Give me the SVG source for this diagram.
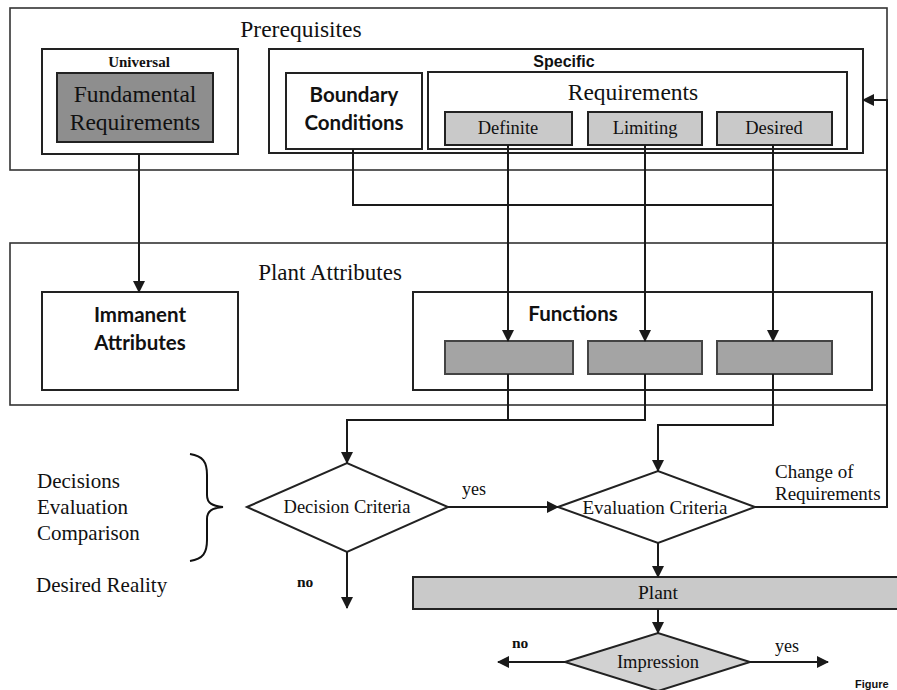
<svg xmlns="http://www.w3.org/2000/svg" width="897" height="690" viewBox="0 0 897 690">
<style>
.frame{fill:none;stroke:#333;stroke-width:1.6}
.box{fill:#fff;stroke:#222;stroke-width:2}
.dark{fill:#8e8e8e;stroke:#222;stroke-width:2}
.light{fill:#c9c9c9;stroke:#222;stroke-width:2}
.func{fill:#a4a4a4;stroke:#444;stroke-width:2}
.dia{fill:#fff;stroke:#222;stroke-width:2}
.line{fill:none;stroke:#1a1a1a;stroke-width:2}
.serif{font-family:"Liberation Serif","Times New Roman",serif;fill:#111}
.opt{font-family:"Lato","Open Sans",sans-serif;font-weight:700;fill:#111}
.sans{font-family:"Liberation Sans",Arial,sans-serif;font-weight:700;fill:#111}
</style>
<defs>
<marker id="ah" markerWidth="12" markerHeight="12" refX="11" refY="6" orient="auto" markerUnits="userSpaceOnUse">
<path d="M0,0 L12,6 L0,12 Z" fill="#1a1a1a"/>
</marker>
</defs>
<rect width="897" height="690" fill="#fff"/>

<g id="prerequisites">
<rect class="frame" x="10" y="8" width="877" height="162"/>
<text class="serif" x="301" y="37" font-size="23.5" text-anchor="middle">Prerequisites</text>
</g>
<g id="universal">
<rect class="box" x="42" y="49" width="196" height="105"/>
<text class="serif" x="139" y="67" font-size="15" font-weight="700" text-anchor="middle">Universal</text>
</g>
<g id="fundamental">
<rect class="dark" x="57" y="73" width="156" height="69"/>
<text class="serif" x="135" y="102" font-size="23.5" text-anchor="middle">Fundamental</text>
<text class="serif" x="135" y="130" font-size="23.5" text-anchor="middle">Requirements</text>
</g>
<g id="specific">
<rect class="box" x="269" y="49" width="594" height="104"/>
<text class="sans" x="564" y="67" font-size="16" text-anchor="middle">Specific</text>
</g>
<g id="boundary">
<rect class="box" x="286" y="73" width="136" height="76"/>
<text class="opt" x="354" y="102" font-size="20.5" text-anchor="middle">Boundary</text>
<text class="opt" x="354" y="130" font-size="20.5" text-anchor="middle">Conditions</text>
</g>
<g id="requirements">
<rect class="box" x="428" y="72" width="419" height="77"/>
<text class="serif" x="633" y="100" font-size="23.5" text-anchor="middle">Requirements</text>
</g>
<g id="definite">
<rect class="light" x="445" y="112" width="127" height="33"/>
<text class="serif" x="508" y="134" font-size="18.5" text-anchor="middle">Definite</text>
</g>
<g id="limiting">
<rect class="light" x="588" y="112" width="114" height="33"/>
<text class="serif" x="645" y="134" font-size="18.5" text-anchor="middle">Limiting</text>
</g>
<g id="desired">
<rect class="light" x="717" y="112" width="115" height="33"/>
<text class="serif" x="774" y="134" font-size="18.5" text-anchor="middle">Desired</text>
</g>

<g id="plant-attributes">
<rect class="frame" x="10" y="243" width="877" height="162"/>
<text class="serif" x="330" y="280" font-size="23" text-anchor="middle">Plant Attributes</text>
</g>
<g id="immanent">
<rect class="box" x="42" y="292" width="196" height="98"/>
<text class="opt" x="140" y="322" font-size="20.5" text-anchor="middle">Immanent</text>
<text class="opt" x="140" y="350" font-size="20.5" text-anchor="middle">Attributes</text>
</g>
<g id="functions">
<rect class="box" x="413" y="292" width="459" height="98"/>
<text class="opt" x="573" y="321" font-size="20.5" text-anchor="middle">Functions</text>
</g>
<g id="func-1"><rect class="func" x="445" y="341" width="128" height="33"/></g>
<g id="func-2"><rect class="func" x="588" y="341" width="114" height="33"/></g>
<g id="func-3"><rect class="func" x="717" y="341" width="115" height="33"/></g>

<g id="decision">
<polygon class="dia" points="247,507 347,463 448,507 347,552"/>
<text class="serif" x="347" y="513" font-size="18.5" text-anchor="middle">Decision Criteria</text>
</g>
<g id="evaluation">
<polygon class="dia" points="558,507 658,471 755,507 658,543"/>
<text class="serif" x="655" y="514" font-size="19" text-anchor="middle">Evaluation Criteria</text>
</g>
<g id="plant">
<rect class="light" x="413" y="577" width="490" height="32"/>
<text class="serif" x="658" y="599" font-size="19.5" text-anchor="middle">Plant</text>
</g>
<g id="impression">
<polygon class="dia" points="565,662 658,633 750,662 658,691" style="fill:#d2d2d2"/>
<text class="serif" x="658" y="668" font-size="18.5" text-anchor="middle">Impression</text>
</g>

<g id="labels">
<path d="M190,454 C203,456 207,462 207,475 L207,495 C207,503 212,506 223,507 C212,508 207,511 207,519 L207,540 C207,553 203,559 190,561" fill="none" stroke="#111" stroke-width="2"/>
<text class="serif" x="37" y="488" font-size="21">Decisions</text>
<text class="serif" x="37" y="514" font-size="21">Evaluation</text>
<text class="serif" x="37" y="540" font-size="21">Comparison</text>
<text class="serif" x="36" y="592" font-size="21">Desired Reality</text>
<text class="serif" x="775" y="478" font-size="19">Change of</text>
<text class="serif" x="775" y="500" font-size="19">Requirements</text>
<text class="serif" x="462" y="495" font-size="18">yes</text>
<text class="serif" x="297" y="587" font-size="15.5" font-weight="700">no</text>
<text class="serif" x="512" y="648" font-size="15.5" font-weight="700">no</text>
<text class="serif" x="775" y="652" font-size="18">yes</text>
<text class="sans" x="855" y="688" font-size="11">Figure</text>
</g>

<g id="connectors">
<path class="line" d="M139,154 V292" marker-end="url(#ah)"/>
<path class="line" d="M353,149 V205 H773"/>
<path class="line" d="M508,145 V341" marker-end="url(#ah)"/>
<path class="line" d="M645,145 V341" marker-end="url(#ah)"/>
<path class="line" d="M773,145 V341" marker-end="url(#ah)"/>
<path class="line" d="M508,374 V420"/>
<path class="line" d="M645,374 V420 H347 V463" marker-end="url(#ah)"/>
<path class="line" d="M773,374 V425 H658 V471" marker-end="url(#ah)"/>
<path class="line" d="M448,507 H558" marker-end="url(#ah)"/>
<path class="line" d="M755,507 H887 V100 H863" marker-end="url(#ah)"/>
<path class="line" d="M347,552 V608" marker-end="url(#ah)"/>
<path class="line" d="M658,543 V577" marker-end="url(#ah)"/>
<path class="line" d="M658,609 V633" marker-end="url(#ah)"/>
<path class="line" d="M565,662 H498" marker-end="url(#ah)"/>
<path class="line" d="M750,662 H828" marker-end="url(#ah)"/>
</g>
</svg>
